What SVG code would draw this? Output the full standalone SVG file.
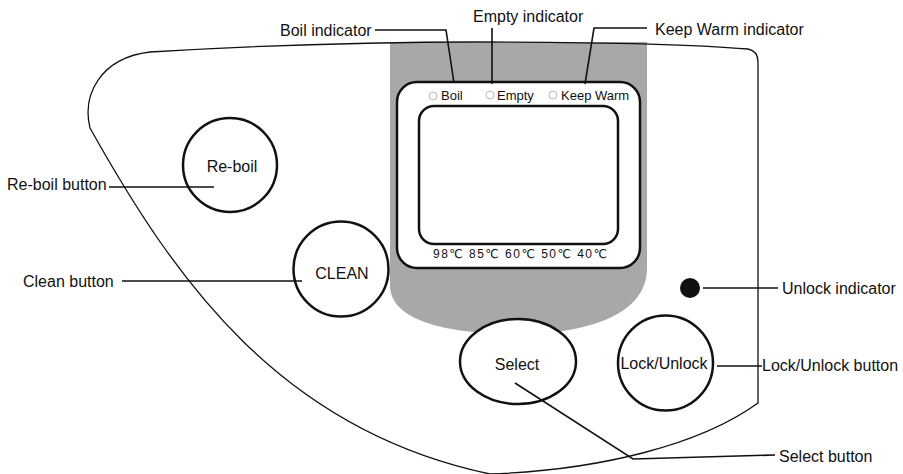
<svg xmlns="http://www.w3.org/2000/svg" width="903" height="474" viewBox="0 0 903 474">
  <style>
    .lbl { font-family: "Liberation Sans", Arial, sans-serif; font-size: 16px; fill: #111; }
    .small { font-family: "Liberation Sans", Arial, sans-serif; font-size: 13px; fill: #111; }
    .temp { font-family: "Liberation Sans", "DejaVu Sans", sans-serif; font-size: 12px; fill: #111; }
    .btn { fill: #fff; stroke: #111; stroke-width: 2.5; }
    .lead { fill: none; stroke: #111; stroke-width: 1.6; }
    .led { fill: #fff; stroke: #b8b8b8; stroke-width: 1; }
  </style>

  <rect width="903" height="474" fill="#fff"/>

  <!-- control panel body -->
  <g id="panel">
    <path d="M390,43 L647,42 V268 C647,318 580,334 518,334 C450,334 390,322 390,285 Z" fill="#a8a7a9"/>
    <path d="M150,52 C250,46 380,42 480,42 C600,42 700,45 748,49 Q758,51 758,62 L758,403 C700,445 600,470 490,474 M150,52 C100,58 82,95 90,128 C175,280 280,430 490,474" fill="none" stroke="#111" stroke-width="1.3"/>
  </g>

  <!-- display window -->
  <g id="display">
    <rect x="397" y="82" width="243" height="186" rx="20" ry="20" fill="#fff" stroke="#111" stroke-width="2.5"/>
    <rect x="419" y="106" width="199" height="138" rx="15" ry="15" fill="#fff" stroke="#111" stroke-width="2.5"/>
    <circle class="led" cx="433" cy="96" r="4"/>
    <text class="small" x="441" y="100">Boil</text>
    <circle class="led" cx="490" cy="95" r="4"/>
    <text class="small" x="497" y="100">Empty</text>
    <circle class="led" cx="553" cy="95" r="4"/>
    <text class="small" x="561" y="100">Keep Warm</text>
    <text class="temp" x="433" y="258" textLength="174" lengthAdjust="spacing">98℃ 85℃ 60℃ 50℃ 40℃</text>
  </g>

  <g id="reboil">
    <circle class="btn" cx="230" cy="165" r="47"/>
    <text class="lbl" x="232" y="172" text-anchor="middle">Re-boil</text>
  </g>

  <g id="clean">
    <circle class="btn" cx="341" cy="269" r="47.5" stroke-width="2"/>
    <text class="lbl" x="342" y="279" text-anchor="middle">CLEAN</text>
  </g>

  <g id="select">
    <ellipse class="btn" cx="518" cy="361.5" rx="58" ry="42.5" stroke-width="2"/>
    <text class="lbl" x="517" y="370" text-anchor="middle">Select</text>
  </g>

  <g id="lock">
    <circle class="btn" cx="665.5" cy="363" r="47.5"/>
    <text class="lbl" x="664" y="369" text-anchor="middle">Lock/Unlock</text>
  </g>

  <g id="unlock-led">
    <circle cx="690" cy="288" r="10" fill="#111"/>
  </g>

  <!-- callout labels -->
  <g id="labels">
    <text class="lbl" x="280" y="36">Boil indicator</text>
    <text class="lbl" x="473" y="22">Empty indicator</text>
    <text class="lbl" x="655" y="35">Keep Warm indicator</text>
    <text class="lbl" x="7" y="190">Re-boil button</text>
    <text class="lbl" x="23" y="287">Clean button</text>
    <text class="lbl" x="782" y="294">Unlock indicator</text>
    <text class="lbl" x="762" y="371">Lock/Unlock button</text>
    <text class="lbl" x="779" y="462">Select button</text>
  </g>

  <!-- leader lines -->
  <g id="connectors">
    <path class="lead" d="M375,30 H446 L454,83"/>
    <path class="lead" d="M492,28 V84"/>
    <path class="lead" d="M647,28 H594 L585,84"/>
    <path class="lead" d="M109,187 H214"/>
    <path class="lead" d="M122,281 H302"/>
    <path class="lead" d="M703,288 H778"/>
    <path class="lead" d="M717,366 H762"/>
    <path class="lead" d="M515,383 L633,459 L775,455"/>
  </g>
</svg>
